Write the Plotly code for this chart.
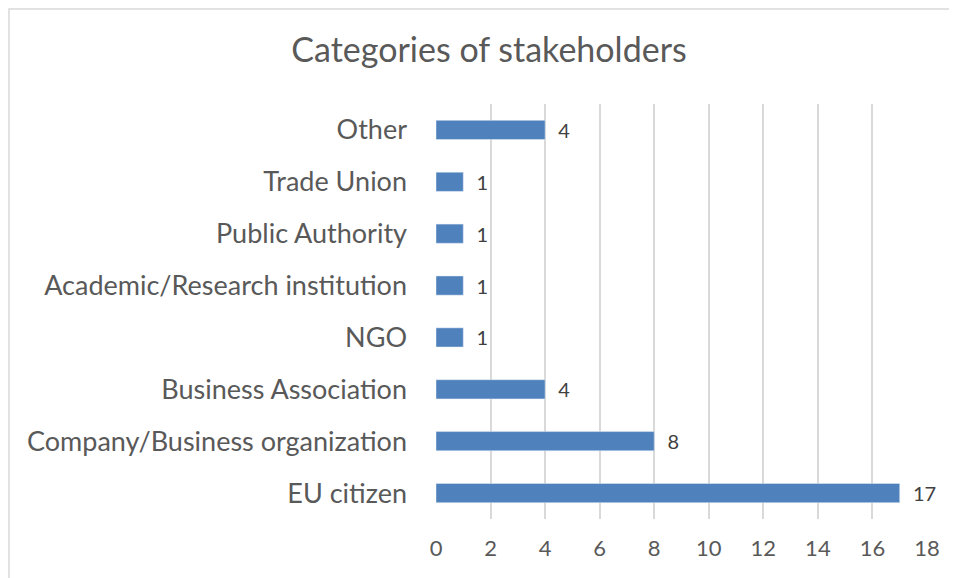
import plotly.graph_objects as go

# categories listed bottom to top, as plotted
categories = [
    "EU citizen",
    "Company/Business organization",
    "Business Association",
    "NGO",
    "Academic/Research institution",
    "Public Authority",
    "Trade Union",
    "Other",
]
counts = [17, 8, 4, 1, 1, 1, 1, 4]
x_ticks = list(range(0, 20, 2))

font_family = "Lato, 'Open Sans', sans-serif"
grey_text = "#595959"
grid_grey = "#d9d9d9"

# page has an 8px body margin, so work in figure pixels = screen pixels - 8
OFF = 8
W, H = 957 - OFF, 578 - OFF
ml, mr, mt, mb = 436 - OFF, 957 - 927, 104 - OFF, 578 - 519

pw, ph = W - ml - mr, H - mt - mb

def px_x(p):
    return (p - OFF - ml) / pw

def px_y(p):
    return 1 - (p - OFF - mt) / ph

fig = go.Figure()
fig.add_trace(go.Bar(
    x=counts,
    y=categories,
    orientation="h",
    marker=dict(color="#4f81bd"),
    width=0.37,
    text=counts,
    texttemplate="  %{text}",
    textposition="outside",
    constraintext="none",
    cliponaxis=False,
    textfont=dict(family=font_family, size=20, color="#404040"),
))

# chart border (left and top edges visible in the picture)
fig.add_shape(type="path", xref="paper", yref="paper",
              path=f"M {px_x(9)} {px_y(590)} L {px_x(9)} {px_y(9)} L {px_x(957)} {px_y(9)}",
              line=dict(color=grid_grey, width=1.5))

fig.update_layout(
    width=W, height=H,
    margin=dict(l=ml, r=mr, t=mt, b=mb),
    paper_bgcolor="white", plot_bgcolor="white",
    showlegend=False,
    title=dict(text="Categories of stakeholders", x=(489 - OFF) / W, xanchor="center",
               y=1 - (50 - OFF) / H, yanchor="middle",
               font=dict(family=font_family, size=34, color=grey_text)),
    font=dict(family=font_family, color=grey_text),
)
fig.update_xaxes(range=[0, 18], tickvals=x_ticks, showgrid=True, gridcolor=grid_grey, gridwidth=1.5,
                 zeroline=False, showline=False, ticks="", ticklabelstandoff=14,
                 tickfont=dict(size=22, color=grey_text))
fig.update_yaxes(categoryorder="array", categoryarray=categories, showgrid=False, zeroline=False,
                 showline=False, ticks="", ticklabelstandoff=28,
                 tickfont=dict(size=27, color=grey_text))

fig.write_html("out.html")
